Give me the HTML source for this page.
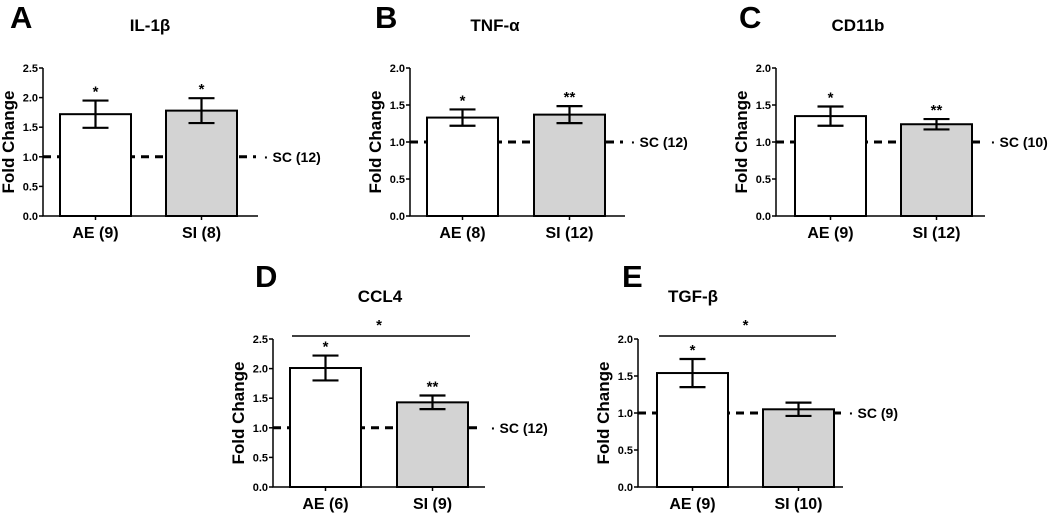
<!DOCTYPE html>
<html><head><meta charset="utf-8"><style>
body{margin:0;background:#fff;}
svg{display:block;font-family:"Liberation Sans",sans-serif;font-weight:bold;}
</style></head><body>
<svg id="fig" width="1050" height="514" viewBox="0 0 1050 514"></svg>
<script>
const panelLetters=["A","B","C","D","E"];
const panelTitles=["IL-1\u03b2","TNF-\u03b1","CD11b","CCL4","TGF-\u03b2"];
const categoryLabels=[["AE (9)","SI (8)"],["AE (8)","SI (12)"],["AE (9)","SI (12)"],["AE (6)","SI (9)"],["AE (9)","SI (10)"]];
const meanValues=[[1.72,1.78],[1.33,1.37],[1.35,1.24],[2.01,1.43],[1.54,1.05]];
const semValues=[[0.23,0.21],[0.11,0.115],[0.13,0.07],[0.21,0.115],[0.19,0.09]];
const sigMarks=[["*","*"],["*","**"],["*","**"],["*","**"],["*",""]];
const controlLabels=["SC (12)","SC (12)","SC (10)","SC (12)","SC (9)"];
const yMaxValues=[2.5,2.0,2.0,2.5,2.0];
const yTickLabels=[["0.0","0.5","1.0","1.5","2.0","2.5"],["0.0","0.5","1.0","1.5","2.0"],["0.0","0.5","1.0","1.5","2.0"],["0.0","0.5","1.0","1.5","2.0","2.5"],["0.0","0.5","1.0","1.5","2.0"]];
const bracketMarks=["","","","*","*"];
const controlValue=1.0;

// layout (not data)
const layout=[
 {ax:43,top:68,bot:216,bars:[60,166],end:258,lx:10,ly:28,tx:150,ty:31,yt:14},
 {ax:410,top:68,bot:216,bars:[427,534],end:625,lx:375,ly:28,tx:495,ty:31,yt:381},
 {ax:776,top:68,bot:216,bars:[795,901],end:985,lx:739,ly:28,tx:858,ty:31,yt:747},
 {ax:273,top:339,bot:487,bars:[290,397],end:485,lx:255,ly:287,tx:380,ty:302,yt:244},
 {ax:638,top:339,bot:487,bars:[657,763],end:843,lx:622,ly:287,tx:693,ty:302,yt:609}
];
const BW=71;
const svg=document.getElementById('fig');
const NS="http://www.w3.org/2000/svg";
function mk(tag,attrs,parent){const e=document.createElementNS(NS,tag);for(const k in attrs)e.setAttribute(k,attrs[k]);(parent||svg).appendChild(e);return e;}

layout.forEach((L,p)=>{
  const g=mk('g',{});
  
  
  const ymax=yMaxValues[p];
  const Y=v=>L.bot-(v/ymax)*(L.bot-L.top);
  let t=mk('text',{x:L.lx,y:L.ly,'font-size':31},g);t.textContent=panelLetters[p];
  
  
  t=mk('text',{x:L.tx,y:L.ty,'font-size':17,'text-anchor':'middle'},g);t.textContent=panelTitles[p];
  
  
  t=mk('text',{x:0,y:0,'font-size':17,'text-anchor':'middle',transform:`translate(${L.yt},${(L.top+L.bot)/2}) rotate(-90)`},g);t.textContent="Fold  Change";
  
  
  const cy=Y(controlValue);
  let d=mk('line',{x1:L.ax,x2:L.end-2,y1:cy,y2:cy,stroke:'#000','stroke-width':3,'stroke-dasharray':'8,6'},g);
  
  
  t=mk('text',{x:L.end+6,y:cy+5,'font-size':14},g);t.textContent="\u00b7 "+controlLabels[p];
  
  
  meanValues[p].forEach((m,i)=>{
    const x0=L.bars[i];
    const r=mk('rect',{x:x0,y:Y(m),width:BW,height:L.bot-Y(m),fill:i?'#d3d3d3':'#fff',stroke:'#000','stroke-width':2},g);
    
    
    const cx=x0+BW/2,s=semValues[p][i];
    const eb=mk('path',{d:`M${cx-13},${Y(m+s)}H${cx+13}M${cx},${Y(m+s)}V${Y(m-s)}M${cx-13},${Y(m-s)}H${cx+13}`,stroke:'#000','stroke-width':2.2,fill:'none'},g);
    
    
    if(sigMarks[p][i]){t=mk('text',{x:cx,y:Y(m+s)-4,'font-size':15,'text-anchor':'middle'},g);t.textContent=sigMarks[p][i];
      
      }
    t=mk('text',{x:cx,y:L.bot+22,'font-size':16,'text-anchor':'middle'},g);t.textContent=categoryLabels[p][i];
    
    
    mk('line',{x1:cx,x2:cx,y1:L.bot,y2:L.bot+4,stroke:'#000','stroke-width':1.5},g);
  });
  const ax=mk('path',{d:`M${L.ax},${L.top}V${L.bot}H${L.end}`,stroke:'#000','stroke-width':1.5,fill:'none'},g);
  
  
  yTickLabels[p].forEach((lab)=>{
    const ty=Y(parseFloat(lab));
    mk('line',{x1:L.ax-4,x2:L.ax,y1:ty,y2:ty,stroke:'#000','stroke-width':1.5},g);
    t=mk('text',{x:L.ax-5,y:ty+4,'font-size':11,'text-anchor':'end'},g);t.textContent=lab;
    
    
  });
  if(bracketMarks[p]){
    const by=L.top-3;
    const b=mk('line',{x1:L.bars[0]+2,x2:L.bars[1]+BW+2,y1:by,y2:by,stroke:'#000','stroke-width':1.5},g);
    
    
    t=mk('text',{x:(L.bars[0]+L.bars[1]+BW)/2,y:by-6,'font-size':15,'text-anchor':'middle'},g);t.textContent=bracketMarks[p];
    
    
  }
});
</script>
</body></html>
